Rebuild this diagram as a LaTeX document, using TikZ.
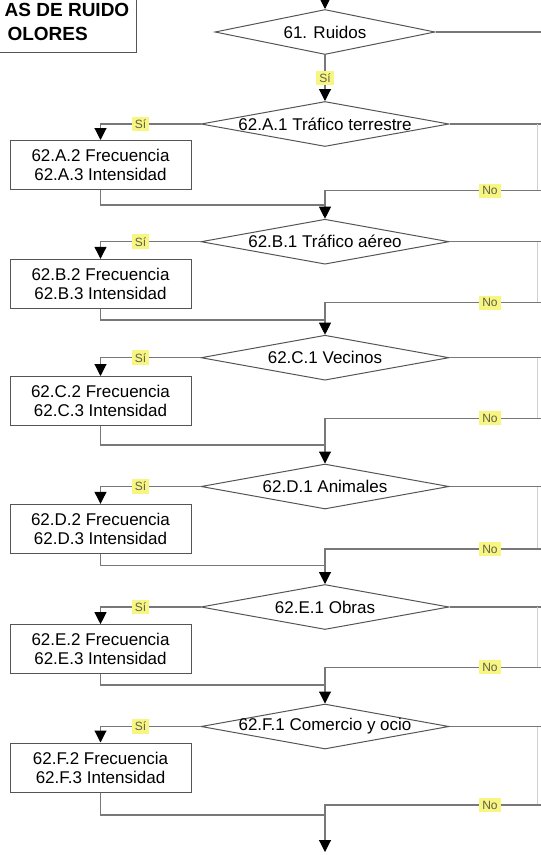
\documentclass[tikz,border=0pt]{standalone}
\usepackage{fontspec}
\setmainfont{Liberation Sans}
\usetikzlibrary{shapes.geometric,arrows.meta}

\definecolor{flowline}{RGB}{120,120,120}
\definecolor{shapeedge}{RGB}{85,85,85}
\definecolor{tagfill}{RGB}{246,246,128}
\definecolor{tagtext}{RGB}{95,95,80}

\tikzset{
  decision/.style={diamond, draw=shapeedge, line width=1pt, aspect=5.5,
    inner xsep=-14pt, inner ysep=0pt, minimum width=248pt, minimum height=45pt,
    font=\fontsize{17}{19}\selectfont},
  task/.style={rectangle, draw=shapeedge, line width=1pt, align=center,
    minimum width=181pt, minimum height=49pt, inner sep=0pt,
    font=\fontsize{17}{19}\selectfont},
  flow/.style={draw=flowline, line width=1.1pt},
  arr/.style={flow, -{Triangle[width=12pt,length=12pt,color=black]}},
  faint/.style={draw=flowline!35, line width=1pt},
  tag/.style={fill=tagfill, text=tagtext, inner sep=3pt,
    font=\fontsize{12}{13}\selectfont},
  heading/.style={font=\bfseries\fontsize{19}{24}\selectfont, inner sep=0pt}
}

\begin{document}
\begin{tikzpicture}[x=1pt,y=-1pt]
\useasboundingbox (0,0) rectangle (541,855);

% title box in the upper left corner
\node[draw=shapeedge, line width=1pt, minimum width=170pt, minimum height=80pt,
      anchor=south east, inner sep=0pt] (title) at (137,53) {};
\node[heading, anchor=east] (title1) at (129.5,10) {AS DE RUIDO};
\node[heading, anchor=east] (title2) at (88,34) {OLORES};

% decisions
\node[decision, minimum width=220pt] (d61) at (325,32) {61. Ruidos};
\node[decision] (dA) at (325,124)   {62.A.1 Tráfico terrestre};
\node[decision] (dB) at (325,241.7) {62.B.1 Tráfico aéreo};
\node[decision] (dC) at (325,357.7) {62.C.1 Vecinos};
\node[decision] (dD) at (325,486.5) {62.D.1 Animales};
\node[decision] (dE) at (325,607)   {62.E.1 Obras};
\node[decision] (dF) at (325,726.5) {62.F.1 Comercio y ocio};

% frequency / intensity boxes
\node[task] (bA) at (100.5,165)   {62.A.2 Frecuencia\\62.A.3 Intensidad};
\node[task] (bB) at (100.5,283.8) {62.B.2 Frecuencia\\62.B.3 Intensidad};
\node[task] (bC) at (100.5,401)   {62.C.2 Frecuencia\\62.C.3 Intensidad};
\node[task] (bD) at (100.5,528.8) {62.D.2 Frecuencia\\62.D.3 Intensidad};
\node[task] (bE) at (100.5,649.2) {62.E.2 Frecuencia\\62.E.3 Intensidad};
\node[task] (bF) at (100.5,767.5) {62.F.2 Frecuencia\\62.F.3 Intensidad};

% loose ends: entry, exit, right margin and junctions
\coordinate (start)  at (325,-2);
\coordinate (finish) at (325,852);
\coordinate (r61) at (542,32);
\coordinate (rA) at (542,124);   \coordinate (nA) at (542,190.7);
\coordinate (rB) at (542,241.7); \coordinate (nB) at (542,302.7);
\coordinate (rC) at (542,357.7); \coordinate (nC) at (542,418.3);
\coordinate (rD) at (542,486.5); \coordinate (nD) at (542,549);
\coordinate (rE) at (542,607);   \coordinate (nE) at (542,667.3);
\coordinate (rF) at (542,726.5); \coordinate (nF) at (542,805);
\coordinate (jA) at (325,205);
\coordinate (jB) at (325,320);
\coordinate (jC) at (325,445);
\coordinate (jD) at (325,565.7);
\coordinate (jE) at (325,685);
\coordinate (jF) at (325,815);

% question 61
\draw[arr] (start) -- (d61.north);
\draw[flow] (d61.east) -- (r61);
\draw[arr] (d61.south) -- node[tag] {Sí} (dA.north);

% one block per noise source
\foreach \k/\nxt in {A/dB.north, B/dC.north, C/dD.north, D/dE.north, E/dF.north, F/finish} {
  \draw[arr] (d\k.west) -| node[tag, pos=0.3] {Sí} (b\k.north);
  \draw[flow] (d\k.east) -- (r\k);
  \draw[faint] ([xshift=-5pt]r\k) -- ([xshift=-5pt]n\k);
  \draw[arr] (n\k) -- node[tag, pos=0.24] {No} (n\k -| j\k) -- (\nxt);
  \draw[flow] (b\k.south) |- (j\k);
}
\end{tikzpicture}
\end{document}
